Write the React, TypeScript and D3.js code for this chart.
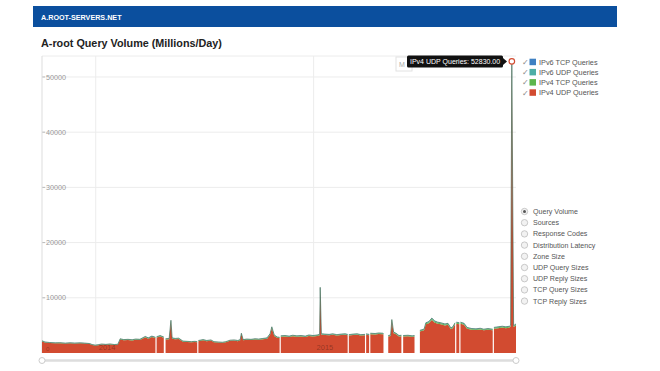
import React from 'react';
import * as d3 from 'd3';

// day offsets from START (null in ipv4Udp = missing data)
const START = new Date(2013, 9, 3);
const dayOffsets = [
  0, 5, 13, 22, 30, 39, 47, 55, 64, 72,
  80, 84, 89, 94, 100, 107, 114, 121, 127, 131,
  137, 144, 151, 157, 164, 173, 178, 184, 190, 191,
  192, 198, 204, 205, 207, 213, 216, 218, 223, 229,
  236, 243, 250, 256, 260, 261, 262, 270, 276, 283,
  288, 295, 302, 308, 315, 322, 328, 332, 334, 337,
  343, 350, 357, 363, 370, 377, 382, 385, 389, 394,
  398, 399, 400, 407, 414, 420, 427, 434, 441, 447,
  454, 461, 465, 466, 468, 474, 481, 487, 494, 501,
  508, 512, 513, 514, 521, 528, 534, 541, 542, 543,
  548, 549, 550, 558, 564, 571, 572, 576, 580, 584,
  586, 589, 593, 598, 602, 604, 605, 613, 620, 624,
  628, 633, 640, 643, 648, 653, 658, 663, 668, 675,
  680, 685, 688, 692, 693, 694, 699, 700, 701, 707,
  712, 720, 727, 734, 740, 747, 755, 756, 757, 764,
  771, 777, 783, 785, 787, 790, 794,
];
const END_DAY = 794;

const ipv4Udp: (number | null)[] = [
  2100, 1900, 1800, 1750, 1780, 1700, 1760, 1720, 1750, 1700,
  1620, 1450, 1350, 1420, 1550, 1480, 1560, 1450, 1500, 2450,
  2300, 2350, 2280, 2400, 2350, 2850, 2600, 2900, 2700, null,
  2800, 3000, 2750, null, 2450, 2500, 5700, 2600, 2500, 2550,
  2050, 2000, 1950, 2000, 1950, null, 2150, 2300, 2150, 2250,
  1950, 1900, 1850, 1950, 2200, 2250, 2150, 2300, 3400, 2300,
  2400, 2350, 2450, 2400, 2500, 2600, 3300, 4500, 3100, 2750,
  2700, null, 2950, 3000, 2900, 3050, 2950, 3000, 2900, 3100,
  3000, 3100, 3200, 11400, 3300, 3250, 3200, 3300, 3150, 3250,
  3300, 3200, null, 3150, 3250, 3300, 3150, 3200, null, 3300,
  3200, null, 3400, 3350, 3450, 3400, 3350, null, 3000, 3100,
  5800, 3600, 3400, 3000, 3050, null, 3000, 3050, 2950, 3000,
  null, 3900, 4100, 5200, 5400, 6000, 5500, 5300, 5200, 5000,
  5100, 4300, 4500, 5200, null, 5300, 5200, null, 5300, 5100,
  4400, 4200, 4150, 4250, 4100, 4200, 4100, null, 4400, 4500,
  4600, 4500, 4600, 4800, 52830, 4700, 5000,
];
const ipv4Tcp = [
  70, 65, 60, 62, 60, 58, 60, 58, 60, 57,
  55, 50, 48, 50, 52, 50, 53, 50, 52, 80,
  78, 80, 76, 82, 80, 95, 88, 98, 92, 0,
  95, 100, 92, 0, 85, 86, 140, 88, 85, 86,
  70, 68, 66, 68, 66, 0, 72, 78, 72, 75,
  66, 64, 62, 66, 75, 76, 72, 78, 110, 78,
  80, 78, 82, 80, 85, 88, 110, 150, 105, 92,
  90, 0, 98, 100, 96, 102, 98, 100, 96, 104,
  100, 104, 106, 300, 110, 108, 106, 110, 105, 108,
  110, 106, 0, 105, 108, 110, 105, 106, 0, 110,
  106, 0, 112, 110, 114, 112, 110, 0, 100, 104,
  160, 118, 112, 100, 102, 0, 100, 102, 98, 100,
  0, 128, 135, 170, 178, 195, 180, 175, 170, 165,
  168, 142, 148, 170, 0, 175, 170, 0, 175, 168,
  145, 138, 136, 140, 135, 138, 135, 0, 145, 148,
  150, 148, 150, 158, 160, 155, 165,
];
const ipv6Udp = [
  40, 38, 36, 36, 35, 35, 36, 35, 35, 34,
  33, 30, 29, 30, 31, 30, 32, 30, 31, 48,
  46, 47, 45, 48, 47, 56, 52, 58, 54, 0,
  56, 60, 55, 0, 50, 51, 80, 52, 50, 51,
  42, 40, 39, 40, 39, 0, 43, 46, 43, 45,
  39, 38, 37, 39, 44, 45, 43, 46, 66, 46,
  48, 47, 49, 48, 50, 52, 66, 90, 62, 55,
  54, 0, 59, 60, 58, 61, 59, 60, 58, 62,
  60, 62, 64, 180, 66, 65, 64, 66, 63, 65,
  66, 64, 0, 63, 65, 66, 63, 64, 0, 66,
  64, 0, 67, 66, 68, 67, 66, 0, 60, 62,
  96, 72, 68, 60, 61, 0, 60, 61, 59, 60,
  0, 78, 82, 104, 108, 120, 110, 106, 104, 100,
  102, 86, 90, 104, 0, 106, 104, 0, 106, 102,
  88, 84, 83, 85, 82, 84, 82, 0, 88, 90,
  92, 90, 92, 96, 95, 94, 100,
];
const ipv6Tcp = [
  3, 3, 3, 3, 3, 3, 3, 3, 3, 3,
  3, 3, 2, 3, 3, 3, 3, 3, 3, 4,
  4, 4, 4, 4, 4, 5, 4, 5, 5, 0,
  5, 5, 5, 0, 4, 4, 7, 4, 4, 4,
  4, 4, 3, 4, 3, 0, 4, 4, 4, 4,
  3, 3, 3, 3, 4, 4, 4, 4, 6, 4,
  4, 4, 4, 4, 4, 5, 6, 8, 5, 5,
  5, 0, 5, 5, 5, 5, 5, 5, 5, 5,
  5, 5, 6, 15, 6, 6, 5, 6, 5, 6,
  6, 5, 0, 5, 6, 6, 5, 5, 0, 6,
  5, 0, 6, 6, 6, 6, 6, 0, 5, 5,
  8, 6, 6, 5, 5, 0, 5, 5, 5, 5,
  0, 7, 7, 9, 9, 10, 9, 9, 9, 8,
  9, 7, 8, 9, 0, 9, 9, 0, 9, 8,
  7, 7, 7, 7, 7, 7, 7, 0, 7, 8,
  8, 8, 8, 8, 8, 8, 8,
];

const seriesKeys = ['ipv4Udp', 'ipv4Tcp', 'ipv6Udp', 'ipv6Tcp'];
const seriesColors = ['#d24b30', '#5db64c', '#4eaea6', '#3f80c2'];
const legendLabels = ['IPv6 TCP Queries', 'IPv6 UDP Queries', 'IPv4 TCP Queries', 'IPv4 UDP Queries'];
const legendColors = ['#3f80c2', '#4eaea6', '#5db64c', '#d24b30'];
const yTicks = [10000, 20000, 30000, 40000, 50000];
const radioOptions = [
  'Query Volume', 'Sources', 'Response Codes', 'Distribution Latency', 'Zone Size',
  'UDP Query Sizes', 'UDP Reply Sizes', 'TCP Query Sizes', 'TCP Reply Sizes',
];

const FONT = '"Liberation Sans", Arial, sans-serif';

const App: React.FC = () => {
  const width = 660;
  const height = 371;
  const plot = { left: 42, right: 516, top: 56, bottom: 353 };

  const rows = dayOffsets.map((d, i) => ({
    date: d3.timeDay.offset(START, d),
    ipv4Udp: ipv4Udp[i] ?? 0,
    ipv4Tcp: ipv4Tcp[i],
    ipv6Udp: ipv6Udp[i],
    ipv6Tcp: ipv6Tcp[i],
  }));

  const x = d3.scaleTime()
    .domain([START, d3.timeDay.offset(START, END_DAY)])
    .range([plot.left, plot.right]);
  const y = d3.scaleLinear().domain([0, 53800]).range([plot.bottom, plot.top]);

  const stacked = d3.stack<any>().keys(seriesKeys)(rows);
  const area = d3.area<any>()
    .defined((d, i) => ipv4Udp[i] != null)
    .x(d => x(d.data.date))
    .y0(d => y(d[0]))
    .y1(d => y(d[1]));
  const topLine = d3.line<any>()
    .defined((d, i) => ipv4Udp[i] != null)
    .x(d => x(d.data.date))
    .y(d => y(d[1]));

  const years = x.ticks(d3.timeYear.every(1));
  const peakIdx = d3.maxIndex(ipv4Udp, v => v ?? 0);
  const peakX = x(rows[peakIdx].date);
  const peakY = y(stacked[0][peakIdx][1]);

  return (
    <svg width={width} height={height} style={{ position: 'absolute', left: 0, top: 0, background: '#fff' }}
      fontFamily={FONT}>
      {/* header */}
      <rect x={33} y={6} width={584} height={21} fill="#0b4f9e" />
      <text x={41} y={19.5} fill="#fff" fontSize={7.2} fontWeight="bold">A.ROOT-SERVERS.NET</text>
      <text x={41} y={46.5} fill="#222" fontSize={10.8} fontWeight="bold">A-root Query Volume (Millions/Day)</text>

      {/* grid */}
      <line x1={plot.left} x2={plot.right} y1={plot.top} y2={plot.top} stroke="#ececec" />
      {yTicks.map(t => (
        <g key={t}>
          <line x1={plot.left} x2={plot.right} y1={y(t)} y2={y(t)} stroke="#ececec" />
          <line x1={plot.left} x2={plot.left + 3} y1={y(t)} y2={y(t)} stroke="#bbb" />
          <text x={plot.left + 4} y={y(t) + 2.6} fontSize={7.2} fill="#999">{t}</text>
        </g>
      ))}
      {years.map(d => (
        <line key={+d} x1={x(d)} x2={x(d)} y1={plot.top} y2={plot.bottom} stroke="#ececec" />
      ))}
      <line x1={plot.left} x2={plot.left} y1={plot.top} y2={plot.bottom} stroke="#ddd" />

      {/* stacked areas */}
      {stacked.map((s, i) => (
        <path key={seriesKeys[i]} d={area(s) || ''} fill={seriesColors[i]} />
      ))}
      <path d={topLine(stacked[3]) || ''} fill="none" stroke="#3f6d5a" strokeWidth={0.8} strokeOpacity={0.85} />

      {years.map(d => (
        <text key={'l' + +d} x={x(d) + 3} y={350} fontSize={7.5} fill="#000" fillOpacity={0.3}>
          {d3.timeFormat('%Y')(d)}
        </text>
      ))}
      <text x={plot.left + 4} y={351} fontSize={6} fill="#000" fillOpacity={0.3}>0</text>

      {/* range slider */}
      <line x1={plot.left} x2={plot.right} y1={360.5} y2={360.5} stroke="#ddd" strokeWidth={2.5} />
      <circle cx={plot.left} cy={360.5} r={3} fill="#fff" stroke="#ccc" />
      <circle cx={plot.right} cy={360.5} r={3} fill="#fff" stroke="#ccc" />

      {/* hover detail */}
      <rect x={396} y={57} width={16} height={14} fill="#fff" stroke="#e2e2e2" />
      <text x={399} y={67} fontSize={7} fill="#aaa">M</text>
      <rect x={407} y={55.5} width={96} height={12} rx={1.5} fill="#111" />
      <path d={`M503,58 L507,61.5 L503,65 Z`} fill="#111" />
      <text x={410} y={64} fontSize={7} fill="#fff">IPv4 UDP Queries: 52830.00</text>
      <circle cx={peakX} cy={peakY} r={2.8} fill="#fff" stroke="#d24b30" strokeWidth={1.2} />

      {/* legend */}
      {legendLabels.map((l, i) => {
        const cy = 62 + i * 10.2;
        return (
          <g key={l}>
            <text x={521.5} y={cy + 3} fontSize={7.5} fill="#888">✓</text>
            <rect x={529.5} y={cy - 3.3} width={6.5} height={6.5} fill={legendColors[i]} />
            <text x={539} y={cy + 2.6} fontSize={7.3} fill="#555">{l}</text>
          </g>
        );
      })}

      {/* renderer options */}
      {radioOptions.map((o, i) => {
        const cy = 211.5 + i * 11.2;
        return (
          <g key={o}>
            <circle cx={524.5} cy={cy} r={3.2} fill="#f2f2f2" stroke="#bdbdbd" strokeWidth={0.8} />
            {i === 0 && <circle cx={524.5} cy={cy} r={1.5} fill="#555" />}
            <text x={533} y={cy + 2.5} fontSize={7.1} fill="#555">{o}</text>
          </g>
        );
      })}
    </svg>
  );
};

export default App;
